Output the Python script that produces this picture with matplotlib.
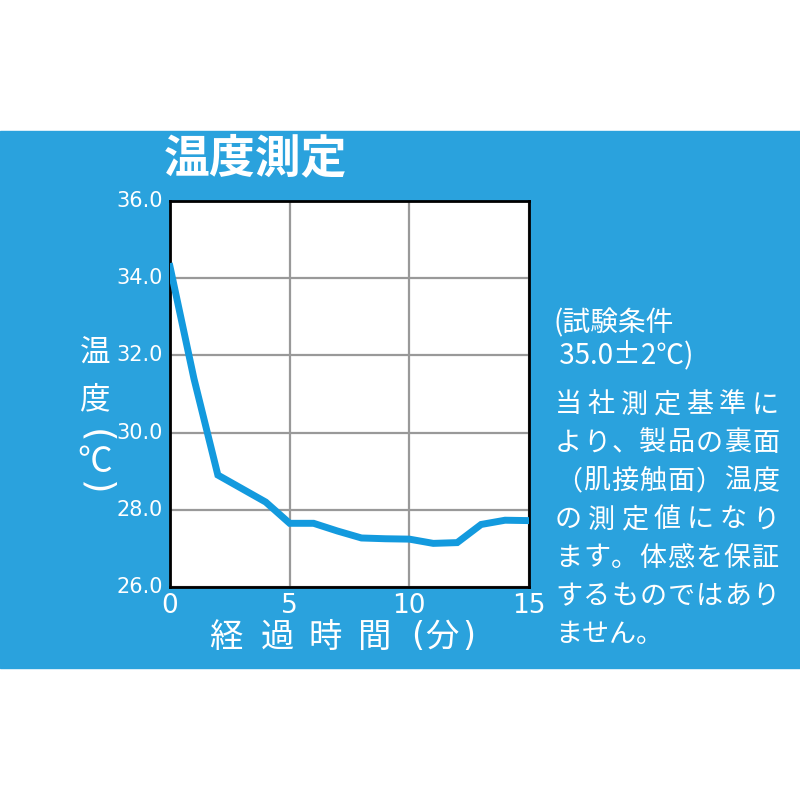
import matplotlib
matplotlib.use('Agg')
import matplotlib.pyplot as plt
from matplotlib.patches import Rectangle

plt.rcParams['font.family'] = ['Noto Sans CJK JP', 'DejaVu Sans']

# data
minutes = [0, 1, 2, 3, 4, 5, 6, 7, 8, 9, 10, 11, 12, 13, 14, 15]
temp = [34.3, 31.4, 28.9, 28.55, 28.2, 27.65, 27.65, 27.45, 27.27, 27.25,
        27.24, 27.13, 27.15, 27.62, 27.73, 27.72]
x_ticks = [0, 5, 10, 15]
y_ticks = [26.0, 28.0, 30.0, 32.0, 34.0, 36.0]

title = '温度測定'
x_label = ['経', '過', '時', '間', '(', '分', ')']
y_label = ['温', '度', '(', '℃', ')']
cond_lines = ['(試験条件', ' 35.0±2℃)']
note_lines = ['当社測定基準に', 'より、製品の裏面', '（肌接触面）温度',
              'の測定値になり', 'ます。体感を保証', 'するものではあり',
              'ません。']

bg = '#2aa2dd'
line_c = '#139ade'
W, H = 800, 800


def fx(px):
    return px / W


def fy(py):
    return 1 - py / H


fig = plt.figure(figsize=(8, 8), dpi=100)
fig.patch.set_facecolor('white')
fig.patches.append(Rectangle((0, fy(668)), 1, (668 - 131) / H,
                             transform=fig.transFigure, color=bg, zorder=-5))

ax = fig.add_axes([fx(170), fy(587), 359 / W, 386 / H])
ax.set_facecolor('white')
ax.plot(minutes, temp, color=line_c, lw=5, solid_joinstyle='miter', zorder=3)
ax.set_xlim(0, 15)
ax.set_ylim(26, 36)
ax.set_xticks(x_ticks)
ax.set_yticks(y_ticks)
ax.set_xticklabels([str(t) for t in x_ticks], fontsize=19, color='white',
                   family='DejaVu Sans')
ax.set_yticklabels(['%.1f' % t for t in y_ticks], fontsize=15, color='white',
                   family='DejaVu Sans', va='center')
ax.tick_params(length=0)
ax.tick_params(axis='x', pad=4)
ax.tick_params(axis='y', pad=5)
ax.grid(True, color='#999999', lw=1.6)
for s in ax.spines.values():
    s.set_color('black')
    s.set_linewidth(2)

# title
fig.text(fx(256), fy(159), title, fontsize=33, fontweight='bold',
         color='white', ha='center', va='center')

# x label, spaced characters
x_lab_pos = [226, 278, 325, 375, 418, 442, 469]
for ch, xp in zip(x_label, x_lab_pos):
    fig.text(fx(xp), fy(637), ch, fontsize=24, color='white',
             ha='center', va='center',
             family='DejaVu Sans' if ch in '()' else None)

# y label, stacked with vertical brackets
y_pos = [353, 400, 436, 462, 488]
y_size = [22, 22, 27, 25, 27]
for ch, yp, fs_ in zip(y_label, y_pos, y_size):
    is_br = ch in '()'
    fig.text(fx(95), fy(yp), ch, fontsize=fs_,
             color='white', ha='center', va='center',
             rotation=-90 if is_br else 0,
             family='DejaVu Sans' if is_br else None)

# test conditions
for txt, yp in zip(cond_lines, [323, 355]):
    fig.text(fx(553), fy(yp), txt, fontsize=20, color='white',
             ha='left', va='center')

# justified note text
fs = 19.5
em = fs * 100 / 72
x0, x1 = 555, 779
for i, txt in enumerate(note_lines):
    yp = 405 + 38.3 * i
    n = len(txt)
    if i < len(note_lines) - 1:
        step = (x1 - x0 - em) / (n - 1)
    else:
        step = em
    for j, ch in enumerate(txt):
        fig.text(fx(x0 + em / 2 + j * step), fy(yp), ch, fontsize=fs,
                 color='white', ha='center', va='center')

fig.savefig('out.png', dpi=100, facecolor='white')
